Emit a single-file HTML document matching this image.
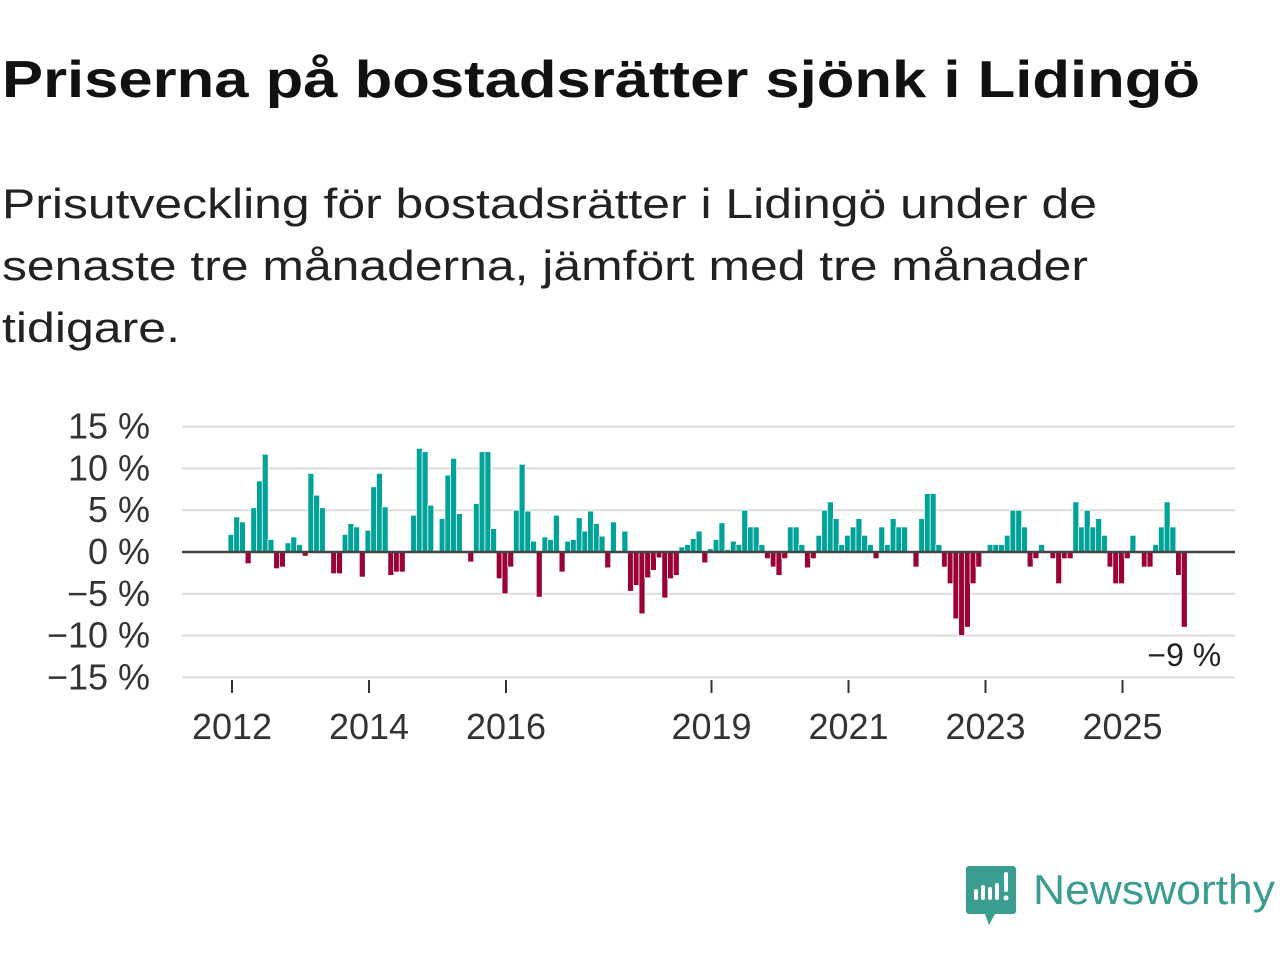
<!DOCTYPE html>
<html><head><meta charset="utf-8"><style>
html,body{margin:0;padding:0;background:#fff;width:1280px;height:960px;overflow:hidden;font-family:"Liberation Sans",sans-serif}
</style></head><body>
<svg id="chart" width="1280" height="960" xmlns="http://www.w3.org/2000/svg" font-family="Liberation Sans, DejaVu Sans, sans-serif">
<text x="2" y="97" font-size="52" font-weight="bold" fill="#111" textLength="1198" lengthAdjust="spacingAndGlyphs">Priserna på bostadsrätter sjönk i Lidingö</text>
<text x="2" y="218" font-size="42" fill="#222" textLength="1095" lengthAdjust="spacingAndGlyphs">Prisutveckling för bostadsrätter i Lidingö under de</text>
<text x="2" y="280" font-size="42" fill="#222" textLength="1086" lengthAdjust="spacingAndGlyphs">senaste tre månaderna, jämfört med tre månader</text>
<text x="2" y="342" font-size="42" fill="#222" textLength="178" lengthAdjust="spacingAndGlyphs">tidigare.</text>
<g id="grid"></g><g id="bars"></g><g id="axes"></g>
<g>
<path d="M969 866 h44 a3 3 0 0 1 3 3 v42 a3 3 0 0 1 -3 3 h-18 l-6 11 l-4 -11 h-16 a3 3 0 0 1 -3 -3 v-42 a3 3 0 0 1 3 -3z" fill="#3a9d8f"/>
<rect x="974" y="889" width="4" height="11" rx="2" fill="#fff"/><rect x="981" y="885" width="4" height="15" rx="2" fill="#fff"/><rect x="988" y="887" width="4" height="13" rx="2" fill="#fff"/><rect x="995" y="883" width="4" height="17" rx="2" fill="#fff"/><rect x="1004" y="872" width="4" height="20" rx="2" fill="#fff"/><circle cx="1006" cy="898" r="2.5" fill="#fff"/>
<text x="1033" y="904" font-size="42" fill="#3a9d8f" textLength="242" lengthAdjust="spacingAndGlyphs">Newsworthy</text>
</g>
</svg>
<script>
const startYear = 2012;
const values = [2.1,4.2,3.6,-1.4,5.3,8.5,11.7,1.5,-2.0,-1.8,1.1,1.8,0.9,-0.5,9.4,6.8,5.3,0,-2.6,-2.6,2.1,3.4,3.0,-3.0,2.6,7.8,9.4,5.4,-2.8,-2.4,-2.4,0,4.4,12.4,12.0,5.6,0.2,4.0,9.2,11.2,4.6,0,-1.2,5.8,12.0,12.0,2.8,-3.2,-5.0,-1.8,5.0,10.5,4.9,1.3,-5.4,1.8,1.5,4.4,-2.4,1.3,1.5,4.1,2.5,4.9,3.4,1.9,-1.9,3.6,0,2.5,-4.7,-4.0,-7.4,-3.1,-2.2,-0.7,-5.5,-3.2,-2.8,0.6,0.9,1.6,2.5,-1.3,0.4,1.5,3.5,0.3,1.3,0.9,5.0,3.0,3.0,0.9,-0.8,-1.8,-2.8,-0.8,3.0,3.0,0.9,-1.9,-0.8,2.0,5.0,6.0,4.0,0.9,2.0,3.0,4.0,2.0,0.9,-0.8,3.0,0.9,4.0,3.0,3.0,0,-1.8,4.0,7.0,7.0,0.9,-1.8,-3.8,-8.0,-10.0,-9.0,-3.8,-1.8,0,0.9,0.9,0.9,2.0,5.0,5.0,3.0,-1.8,-0.8,0.9,0,-0.8,-3.8,-0.8,-0.8,6.0,3.0,5.0,3.0,4.0,2.0,-1.8,-3.8,-3.8,-0.8,2.0,0,-1.8,-1.8,0.9,3.0,6.0,3.0,-2.8,-9.0];
const yTicks = [15,10,5,0,-5,-10,-15];
const yTickLabels = ["15 %","10 %","5 %","0 %","\u22125 %","\u221210 %","\u221215 %"];
const xTickYears = [2012,2014,2016,2019,2021,2023,2025];
const lastLabel = "\u22129 %";
const NS="http://www.w3.org/2000/svg";
const X0=182,X1=1235;
function yScale(v){return 552 - v*8.36;}
function xYear(y){return 232 + (y-startYear)*68.5;}
function xMonth(i){return 231 + i*68.5/12;}
function mk(tag,attrs,parent){const e=document.createElementNS(NS,tag);for(const k in attrs)e.setAttribute(k,attrs[k]);parent.appendChild(e);return e;}
const grid=document.getElementById('grid'),bars=document.getElementById('bars'),axes=document.getElementById('axes');
yTicks.forEach((t,i)=>{
  if(t!==0){const l=mk('line',{x1:X0,x2:X1,y1:yScale(t),y2:yScale(t),stroke:'#dcdcdc','stroke-width':2},grid);
  
  }
  const tx=mk('text',{x:150,y:yScale(t)+12,'text-anchor':'end','font-size':36,fill:'#333'},axes);
  tx.textContent=yTickLabels[i];
  
  
});
values.forEach((v,i)=>{
  if(v===0)return;
  const y0=yScale(0),y1=yScale(v);
  const r=mk('rect',{x:xMonth(i)-3,y:Math.min(y0,y1),width:6,height:Math.abs(y1-y0),fill:v>0?'#00a398':'#9b0036',stroke:'#fff','stroke-width':0.8},bars);
  
  
});
const z=mk('line',{x1:X0,x2:X1,y1:yScale(0),y2:yScale(0),stroke:'#444','stroke-width':2.5},axes);


xTickYears.forEach(yr=>{
  const x=xYear(yr);
  const tk=mk('line',{x1:x,x2:x,y1:680,y2:693,stroke:'#333','stroke-width':2},axes);
  
  
  const tx=mk('text',{x:x,y:739,'text-anchor':'middle','font-size':36,fill:'#333'},axes);
  tx.textContent=yr;
  
  
});
const li=values.length-1;
const lab=mk('text',{x:xMonth(li),y:666,'text-anchor':'middle','font-size':32,fill:'#222',stroke:'#fff','stroke-width':6,'paint-order':'stroke'},axes);
lab.textContent=lastLabel;


</script>
</body></html>
